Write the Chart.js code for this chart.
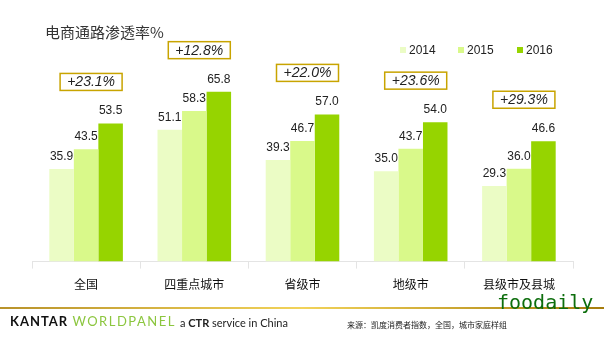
<!DOCTYPE html>
<html>
<head>
<meta charset="utf-8">
<script src="https://cdn.jsdelivr.net/npm/chart.js@4.4.1/dist/chart.umd.min.js"></script>
<style>
  html, body { margin: 0; padding: 0; background: #fff; }
  #wrap { position: relative; width: 604px; height: 340px; }
</style>
</head>
<body>
<div id="wrap"><canvas id="barChart" width="604" height="340"></canvas></div>
<script>
// chart data
var categories = ['全国', '四重点城市', '省级市', '地级市', '县级市及县城'];
var years = ['2014', '2015', '2016'];
var values2014 = [35.9, 51.1, 39.3, 35.0, 29.3];
var values2015 = [43.5, 58.3, 46.7, 43.7, 36.0];
var values2016 = [53.5, 65.8, 57.0, 54.0, 46.6];
var growth = ['+23.1%', '+12.8%', '+22.0%', '+23.6%', '+29.3%'];
var colors = ['#ebfcc5', '#d9f98a', '#96d400'];

var titleText = '电商通路渗透率%';
var sourceText = '来源：凯度消费者指数，全国，城市家庭样组';

// title, legend, growth boxes, value labels and footer
var decorPlugin = {
    id: 'decor',
    afterDatasetsDraw: function (chart) {
        var ctx = chart.ctx;
        var x = chart.scales.x;
        var y = chart.scales.y;
        ctx.save();

        // title
        ctx.fillStyle = '#333';
        ctx.font = '15px "Noto Sans CJK SC", sans-serif';
        ctx.textAlign = 'left';
        ctx.textBaseline = 'middle';
        ctx.fillText(titleText, 45, 32);

        // legend
        var legendX = [400, 458, 517];
        ctx.font = '12px "Liberation Sans", Arial, sans-serif';
        years.forEach(function (yr, i) {
            ctx.fillStyle = colors[i];
            ctx.fillRect(legendX[i], 47, 6, 6);
            ctx.fillStyle = '#222';
            ctx.fillText(yr, legendX[i] + 9, 50.5);
        });

        // value labels above bars
        ctx.font = '12px "Liberation Sans", Arial, sans-serif';
        ctx.textAlign = 'center';
        ctx.textBaseline = 'alphabetic';
        ctx.fillStyle = '#222';
        chart.data.datasets.forEach(function (ds, di) {
            chart.getDatasetMeta(di).data.forEach(function (bar, i) {
                ctx.fillText(ds.data[i].toFixed(1), bar.x, bar.y - 9);
            });
        });

        // growth boxes
        ctx.font = 'italic 14px "Liberation Sans", Arial, sans-serif';
        growth.forEach(function (g, i) {
            var cx = x.getPixelForValue(i) + 5;
            var bottom = y.getPixelForValue(values2016[i]) - 33;
            ctx.strokeStyle = '#c8a400';
            ctx.lineWidth = 1.5;
            ctx.strokeRect(cx - 31, bottom - 17, 62, 17);
            ctx.fillStyle = '#222';
            ctx.textAlign = 'center';
            ctx.textBaseline = 'middle';
            ctx.fillText(g, cx, bottom - 8);
        });

        // footer line
        var grad = ctx.createLinearGradient(0, 0, 604, 0);
        grad.addColorStop(0, '#b8922a');
        grad.addColorStop(0.5, '#f2d35a');
        grad.addColorStop(1, '#a67c0c');
        ctx.fillStyle = grad;
        ctx.fillRect(0, 307, 604, 2);

        // watermark
        ctx.fillStyle = '#0d6e0d';
        ctx.font = '20px "DejaVu Sans Mono", monospace';
        ctx.textAlign = 'left';
        ctx.textBaseline = 'alphabetic';
        ctx.fillText('foodaily', 497, 309);

        // footer brand
        ctx.textBaseline = 'middle';
        var fx = 10;
        ctx.fillStyle = '#111';
        ctx.letterSpacing = '1px';
        ctx.font = 'bold 13px Lato, "Open Sans", sans-serif';
        ctx.fillText('KANTAR', fx, 322);
        fx += ctx.measureText('KANTAR ').width;
        ctx.fillStyle = '#8cc63f';
        ctx.letterSpacing = '1.5px';
        ctx.font = '13px Lato, "Open Sans", sans-serif';
        ctx.fillText('WORLDPANEL', fx, 322);
        fx = 180;
        ctx.letterSpacing = '0px';
        ctx.fillStyle = '#222';
        ctx.font = '11px Lato, "Open Sans", sans-serif';
        ctx.fillText('a ', fx, 323);
        fx += ctx.measureText('a ').width;
        ctx.font = 'bold 11px Lato, "Open Sans", sans-serif';
        ctx.fillText('CTR', fx, 323);
        fx += ctx.measureText('CTR ').width;
        ctx.font = '11px Lato, "Open Sans", sans-serif';
        ctx.fillText('service in China', fx, 323);

        // source
        ctx.fillStyle = '#222';
        ctx.font = '8px "Noto Sans CJK SC", sans-serif';
        ctx.fillText(sourceText, 347, 325);

        ctx.restore();
    }
};

var ctx = document.getElementById('barChart').getContext('2d');
var barChart = new Chart(ctx, {
    type: 'bar',
    data: {
        labels: categories,
        datasets: [
            { label: years[0], data: values2014, backgroundColor: colors[0] },
            { label: years[1], data: values2015, backgroundColor: colors[1] },
            { label: years[2], data: values2016, backgroundColor: colors[2] }
        ]
    },
    options: {
        responsive: false,
        animation: false,
        devicePixelRatio: 1,
        layout: { padding: { left: 32, right: 31, top: 55, bottom: 39 } },
        datasets: { bar: { categoryPercentage: 0.68, barPercentage: 1.0 } },
        plugins: {
            legend: { display: false },
            tooltip: { enabled: false }
        },
        scales: {
            x: {
                grid: { drawOnChartArea: false, drawTicks: true, tickLength: 7, color: '#e4e4e4' },
                border: { display: true, color: '#e4e4e4' },
                ticks: { color: '#111', padding: 9, font: { family: '"Noto Sans CJK SC", sans-serif', size: 12 } }
            },
            y: {
                display: false,
                min: 0,
                max: 80
            }
        }
    },
    plugins: [decorPlugin]
});
</script>
</body>
</html>
